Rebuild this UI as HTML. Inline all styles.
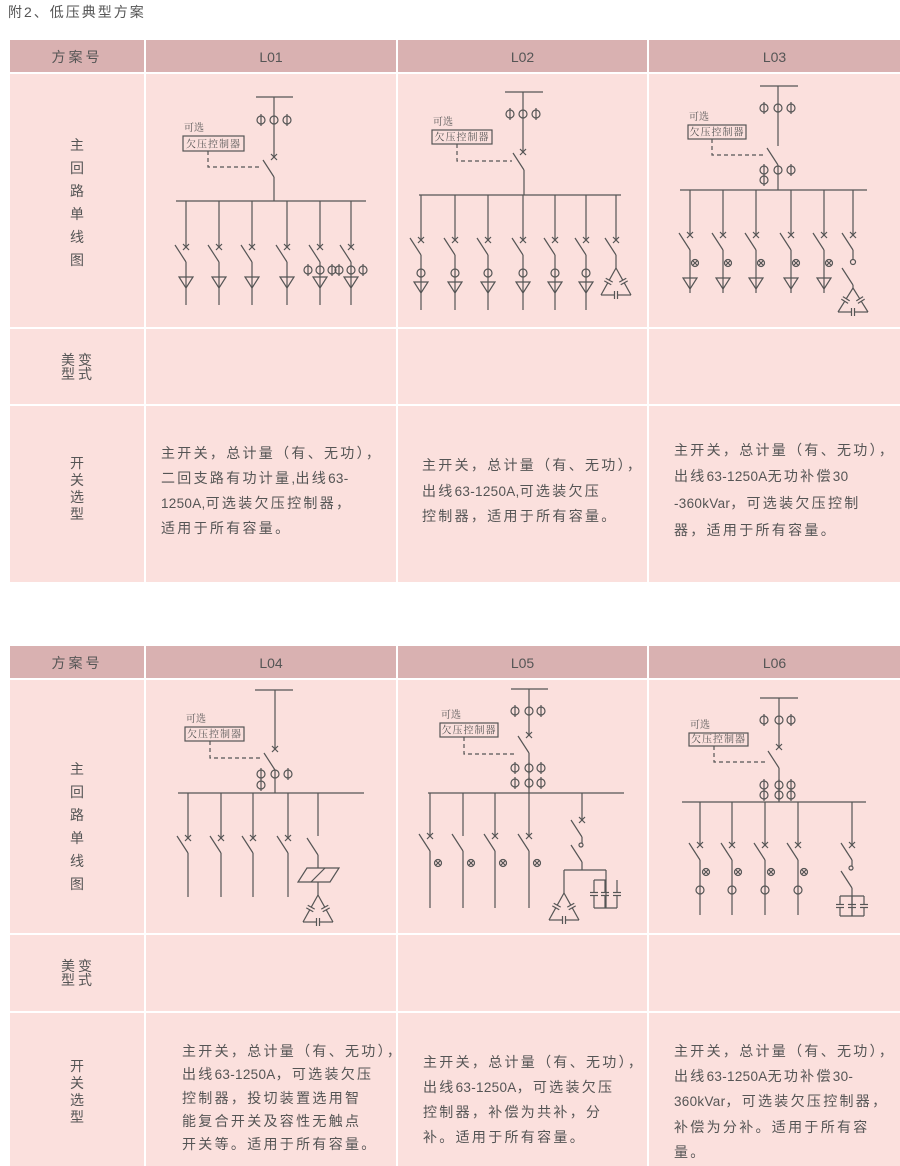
<!DOCTYPE html>
<html><head><meta charset="utf-8">
<style>
body{margin:0;width:900px;height:1166px;position:relative;background:#fff;overflow:hidden;font-family:"Liberation Sans","Noto Sans CJK SC",sans-serif;color:#555}
.c{position:absolute}
.h{background:#d9b1b1}
.b{background:#fbe0dd}
.t{position:absolute;white-space:nowrap;font-size:14px;letter-spacing:2.3px;line-height:16px}
.t i{font-style:normal;letter-spacing:0.3px;font-size:13.5px}
.ht{position:absolute;font-size:14px;line-height:16px;text-align:center;white-space:nowrap}
svg{position:absolute;left:0;top:0}
</style></head><body>
<div class="t" style="left:8px;top:4px;letter-spacing:2px">附2、低压典型方案</div>

<div class="c h" style="left:10px;top:40px;width:134px;height:32px"></div>
<div class="c h" style="left:146px;top:40px;width:250px;height:32px"></div>
<div class="c h" style="left:398px;top:40px;width:249px;height:32px"></div>
<div class="c h" style="left:649px;top:40px;width:251px;height:32px"></div>
<div class="c b" style="left:10px;top:74px;width:134px;height:253px"></div>
<div class="c b" style="left:146px;top:74px;width:250px;height:253px"></div>
<div class="c b" style="left:398px;top:74px;width:249px;height:253px"></div>
<div class="c b" style="left:649px;top:74px;width:251px;height:253px"></div>
<div class="c b" style="left:10px;top:329px;width:134px;height:75px"></div>
<div class="c b" style="left:146px;top:329px;width:250px;height:75px"></div>
<div class="c b" style="left:398px;top:329px;width:249px;height:75px"></div>
<div class="c b" style="left:649px;top:329px;width:251px;height:75px"></div>
<div class="c b" style="left:10px;top:406px;width:134px;height:176px"></div>
<div class="c b" style="left:146px;top:406px;width:250px;height:176px"></div>
<div class="c b" style="left:398px;top:406px;width:249px;height:176px"></div>
<div class="c b" style="left:649px;top:406px;width:251px;height:176px"></div>

<div class="c h" style="left:10px;top:646px;width:134px;height:32px"></div>
<div class="c h" style="left:146px;top:646px;width:250px;height:32px"></div>
<div class="c h" style="left:398px;top:646px;width:249px;height:32px"></div>
<div class="c h" style="left:649px;top:646px;width:251px;height:32px"></div>
<div class="c b" style="left:10px;top:680px;width:134px;height:253px"></div>
<div class="c b" style="left:146px;top:680px;width:250px;height:253px"></div>
<div class="c b" style="left:398px;top:680px;width:249px;height:253px"></div>
<div class="c b" style="left:649px;top:680px;width:251px;height:253px"></div>
<div class="c b" style="left:10px;top:935px;width:134px;height:76px"></div>
<div class="c b" style="left:146px;top:935px;width:250px;height:76px"></div>
<div class="c b" style="left:398px;top:935px;width:249px;height:76px"></div>
<div class="c b" style="left:649px;top:935px;width:251px;height:76px"></div>
<div class="c b" style="left:10px;top:1013px;width:134px;height:153px"></div>
<div class="c b" style="left:146px;top:1013px;width:250px;height:153px"></div>
<div class="c b" style="left:398px;top:1013px;width:249px;height:153px"></div>
<div class="c b" style="left:649px;top:1013px;width:251px;height:153px"></div>

<div class="ht" style="left:10px;width:134px;top:49px;letter-spacing:3px">方案号</div>
<div class="ht" style="left:146px;width:250px;top:49px">L01</div>
<div class="ht" style="left:398px;width:249px;top:49px">L02</div>
<div class="ht" style="left:649px;width:251px;top:49px">L03</div>
<div class="ht" style="left:10px;width:134px;top:655px;letter-spacing:3px">方案号</div>
<div class="ht" style="left:146px;width:250px;top:655px">L04</div>
<div class="ht" style="left:398px;width:249px;top:655px">L05</div>
<div class="ht" style="left:649px;width:251px;top:655px">L06</div>

<div class="t" style="left:70px;top:134px;line-height:23px;white-space:normal;width:16px">主回路单线图</div>
<div class="t" style="left:61px;top:353px;line-height:14px;letter-spacing:3px">美变<br>型式</div>
<div class="t" style="left:70px;top:455px;line-height:17px;white-space:normal;width:16px">开关选型</div>
<div class="t" style="left:70px;top:758px;line-height:23px;white-space:normal;width:16px">主回路单线图</div>
<div class="t" style="left:61px;top:959px;line-height:14px;letter-spacing:3px">美变<br>型式</div>
<div class="t" style="left:70px;top:1058px;line-height:17px;white-space:normal;width:16px">开关选型</div>

<div class="t" style="left:161px;top:441px;line-height:25px">主开关，总计量（有、无功），<br>二回支路有功计量<i>,</i>出线<i>63-</i><br><i>1250A,</i>可选装欠压控制器，<br>适用于所有容量。</div>
<div class="t" style="left:422px;top:453px;line-height:25.5px">主开关，总计量（有、无功），<br>出线<i>63-1250A,</i>可选装欠压<br>控制器，适用于所有容量。</div>
<div class="t" style="left:674px;top:437px;line-height:26px">主开关，总计量（有、无功），<br>出线<i>63-1250A</i>无功补偿<i>30</i><br><i>-360kVar</i>，可选装欠压控制<br>器，适用于所有容量。</div>
<div class="t" style="left:182px;top:1040px;line-height:23.3px">主开关，总计量（有、无功），<br>出线<i>63-1250A</i>，可选装欠压<br>控制器，投切装置选用智<br>能复合开关及容性无触点<br>开关等。适用于所有容量。</div>
<div class="t" style="left:423px;top:1050px;line-height:25px">主开关，总计量（有、无功），<br>出线<i>63-1250A</i>，可选装欠压<br>控制器，补偿为共补，分<br>补。适用于所有容量。</div>
<div class="t" style="left:674px;top:1039px;line-height:25.2px">主开关，总计量（有、无功），<br>出线<i>63-1250A</i>无功补偿<i>30-</i><br><i>360kVar</i>，可选装欠压控制器，<br>补偿为分补。适用于所有容<br>量。</div>

<svg id="d" width="900" height="1166" viewBox="0 0 900 1166"></svg>
<script>
var s='';
function L(a,b,c,d){s+='<line x1="'+a+'" y1="'+b+'" x2="'+c+'" y2="'+d+'"/>';}
function C(x,y,r){s+='<circle cx="'+x+'" cy="'+y+'" r="'+(r||4)+'"/>';}
function P(x,y){C(x,y);L(x,y-6,x,y+6);}
function X(x,y){L(x-3,y-3,x+3,y+3);L(x-3,y+3,x+3,y-3);}
function O(x,y){C(x,y,3.5);L(x-2.5,y-2.5,x+2.5,y+2.5);L(x-2.5,y+2.5,x+2.5,y-2.5);}
function B(x,y){L(x-11,y-2,x,y+15);}
function T(x,y){s+='<polygon points="'+(x-7)+','+y+' '+(x+7)+','+y+' '+x+','+(y+11)+'"/>';}
function cap(x1,y1,x2,y2){var mx=(x1+x2)/2,my=(y1+y2)/2,dx=x2-x1,dy=y2-y1,l=Math.hypot(dx,dy),ux=dx/l,uy=dy/l,nx=-uy*4,ny=ux*4;
 L(x1,y1,mx-ux*1.5,my-uy*1.5);L(mx+ux*1.5,my+uy*1.5,x2,y2);
 L(mx-ux*1.5-nx,my-uy*1.5-ny,mx-ux*1.5+nx,my-uy*1.5+ny);L(mx+ux*1.5-nx,my+uy*1.5-ny,mx+ux*1.5+nx,my+uy*1.5+ny);}
function D(x,y,w,h){cap(x,y,x-w,y+h);cap(x,y,x+w,y+h);cap(x-w,y+h,x+w,y+h);}
function BOX(x,y,w,h,dx,dy2,ex){s+='<text x="'+(x+1)+'" y="'+(y-5)+'" font-size="10" stroke="none" fill="#555" font-family="Liberation Serif,Noto Serif CJK SC,serif">可选</text>';
 s+='<rect x="'+x+'" y="'+y+'" width="'+w+'" height="'+h+'" fill="none"/>';
 s+='<text x="'+(x+w/2)+'" y="'+(y+h-3.5)+'" text-anchor="middle" font-size="10" letter-spacing="1" stroke="none" fill="#555" font-family="Liberation Serif,Noto Serif CJK SC,serif">欠压控制器</text>';
 s+='<path d="M'+dx+' '+(y+h)+'V'+dy2+'H'+ex+'" fill="none" stroke-dasharray="4,3"/>';}
function CAPV(x,y1,y2){var m=(y1+y2)/2;L(x,y1,x,m-1.5);L(x,m+1.5,x,y2);L(x-4,m-1.5,x+4,m-1.5);L(x-4,m+1.5,x+4,m+1.5);}

L(256,97,293,97);L(274,97,274,157);P(261,120);C(274,120);P(287,120);X(274,157);B(274,162);L(274,177,274,201);
L(176,201,366,201);BOX(183,136,61,15,208,167,262);
[186,219,252,287,320,351].forEach(function(x,i){L(x,201,x,247);X(x,247);B(x,247);L(x,262,x,305);T(x,277);if(i>3){P(x-12,270);C(x,270);P(x+12,270);}});
L(505,92,543,92);L(523,92,523,152);P(510,114);C(523,114);P(536,114);X(523,152);B(524,155);L(524,170,524,195);
L(419,195,621,195);BOX(432,130,60,14,457,161,512);
[421,455,488,523,555,586].forEach(function(x){L(x,195,x,240);X(x,240);B(x,240);L(x,255,x,310);C(x,273);T(x,282);});
L(616,195,616,240);X(616,240);B(616,240);L(616,255,616,268);D(616,268,15,27);
L(760,86,798,86);L(778,86,778,146);P(764,108);C(778,108);P(791,108);B(778,150);L(778,165,778,190);
P(764,170);C(778,170);P(791,170);P(764,180);L(680,190,867,190);BOX(688,125,58,14,712,155,766);
[690,723,756,791,824].forEach(function(x){L(x,190,x,235);X(x,235);B(x,235);L(x,250,x,293);O(x+5,263);T(x,278);});
L(853,190,853,235);X(853,235);B(853,235);L(853,250,853,259);C(853,262,2.5);B(853,270);L(853,285,853,288);D(853,288,15,24);
L(255,690,293,690);L(275,690,275,749);X(275,749);B(275,755);L(275,770,275,793);P(261,774);C(275,774);P(288,774);P(261,785);
L(178,793,364,793);BOX(185,727,59,14,210,758,262);
[188,221,253,288].forEach(function(x){L(x,793,x,838);X(x,838);B(x,838);L(x,853,x,897);});
L(318,793,318,836);B(318,840);L(318,855,318,868);
s+='<polygon points="307,868 339,868 330,882 298,882"/>';L(311,882,325,868);L(318,882,318,895);D(318,895,15,27);
L(511,689,548,689);L(529,689,529,735);P(515,711);C(529,711);P(541,711);X(529,735);B(529,738);L(529,753,529,793);
[515,529,541].forEach(function(x){P(x,768);P(x,783);});L(428,793,624,793);BOX(440,723,58,14,464,754,516);
[430,463,495,529].forEach(function(x,i){L(x,793,x,836);if(i!=1)X(x,836);B(x,836);L(x,851,x,908);O(x+8,863);});
L(582,793,582,820);X(582,820);B(582,822);L(582,837,582,843);C(581,845,2);B(582,847);L(582,862,582,870);
L(564,870,606,870);L(564,870,564,893);D(564,893,15,27);L(606,870,606,908);L(594,908,617,908);
[594,605,617].forEach(function(x){CAPV(x,880,908);});L(594,880,606,880);
L(760,698,798,698);L(779,698,779,747);P(764,720);C(779,720);P(791,720);X(779,747);B(779,753);L(779,768,779,802);
[764,779,791].forEach(function(x){P(x,785);P(x,795);});L(682,802,866,802);BOX(689,733,59,13,714,762,765);
[700,732,765,798].forEach(function(x){L(x,802,x,845);X(x,845);B(x,845);L(x,860,x,915);O(x+6,872);C(x,890);});
L(852,802,852,845);X(852,845);B(852,845);L(852,860,852,866);C(851,868,2);B(852,873);L(852,888,852,916);L(840,916,864,916);
[840,852,864].forEach(function(x){CAPV(x,896,916);});L(840,896,864,896);
document.getElementById('d').innerHTML='<g stroke="#555" stroke-width="1.2" fill="none">'+s+'</g>';
</script>
</body></html>
